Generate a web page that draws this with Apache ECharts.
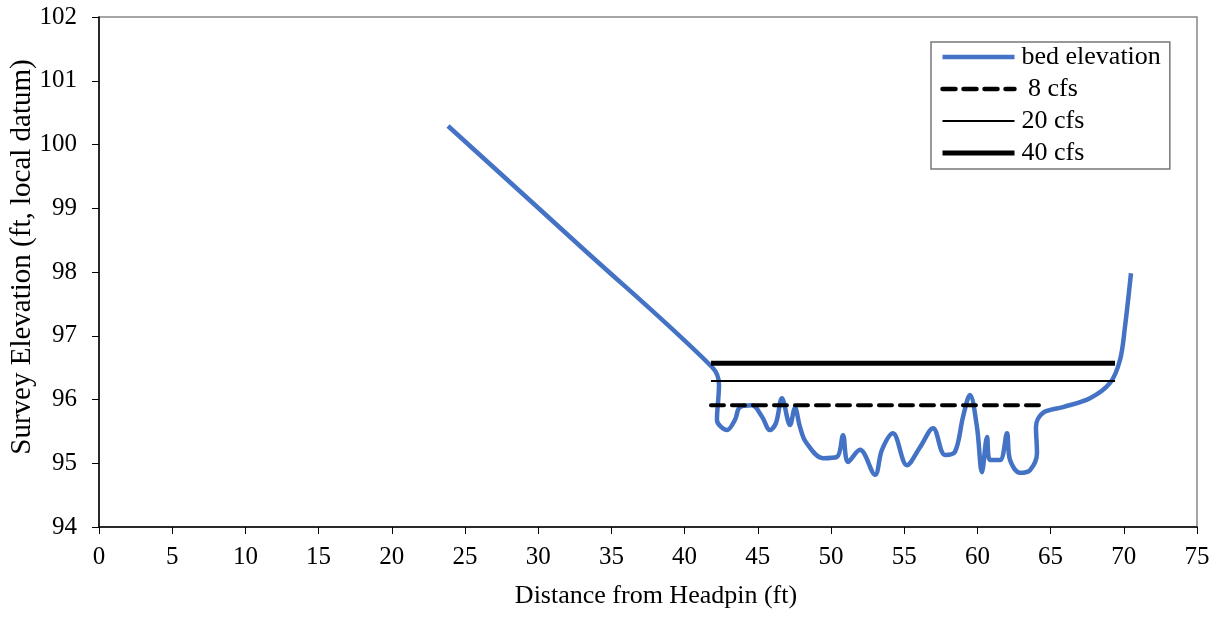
<!DOCTYPE html>
<html>
<head>
<meta charset="utf-8">
<script src="https://cdn.jsdelivr.net/npm/echarts@6/dist/echarts.min.js"></script>
<style>html,body{margin:0;padding:0;background:#fff;}#c{width:1219px;height:623px;}</style>
</head>
<body>
<div id="c"></div>
<script>
const bedX = [23.84, 32.8, 41.87, 42.35, 42.21, 42.90, 43.44, 43.78, 44.60, 45.29, 45.83, 46.24, 46.65, 47.20, 47.54, 47.88, 48.29, 49.45, 50.41, 50.82, 51.16, 51.98, 53.01, 53.48, 54.23, 55.19, 56.08, 56.97, 57.79, 58.47, 59.02, 59.49, 59.97, 60.31, 60.66, 60.86, 61.54, 62.02, 62.23, 62.91, 63.59, 64.07, 64.00, 64.48, 65.85, 67.69, 69.06, 69.74, 70.08, 70.49];
const bedY = [100.29, 98.42, 96.51, 96.23, 95.68, 95.52, 95.68, 95.88, 95.91, 95.73, 95.52, 95.63, 96.02, 95.60, 95.87, 95.57, 95.33, 95.08, 95.10, 95.44, 95.02, 95.21, 94.82, 95.21, 95.47, 94.97, 95.25, 95.55, 95.13, 95.18, 95.73, 96.07, 95.57, 94.86, 95.41, 95.05, 95.05, 95.47, 95.05, 94.85, 94.89, 95.16, 95.57, 95.79, 95.88, 96.02, 96.26, 96.62, 97.14, 97.98];
const cfs8X = [41.8, 64.4];
const cfs8Y = [95.91, 95.91];
const cfs20X = [41.8, 69.4];
const cfs20Y = [96.29, 96.29];
const cfs40X = [41.8, 69.4];
const cfs40Y = [96.57, 96.57];
const legendNames = ['bed elevation', ' 8 cfs', '20 cfs', '40 cfs'];

const zip = (xs, ys) => xs.map((x, i) => [x, ys[i]]);
const font = 'Liberation Serif, Times New Roman, serif';

const chart = echarts.init(document.getElementById('c'), null, {renderer: 'canvas'});
chart.setOption({
  animation: false,
  backgroundColor: '#fff',
  textStyle: {fontFamily: font},
  grid: {left: 99, right: 22, top: 17, bottom: 96, show: true, borderColor: '#888', borderWidth: 1.5,
         backgroundColor: 'transparent', containLabel: false, outerBoundsMode: 'none'},
  legend: {
    orient: 'vertical',
    left: 931, top: 42,
    padding: [2, 9, 3, 9],
    itemGap: 6,
    itemWidth: 72, itemHeight: 26,
    borderColor: '#777', borderWidth: 1.5,
    itemStyle: {opacity: 0},
    textStyle: {fontFamily: font, fontSize: 26, lineHeight: 26, color: '#000', padding: [0, 0, 0, 2]},
    data: [
      {name: legendNames[0], lineStyle: {width: 4.5}},
      {name: legendNames[1], lineStyle: {width: 4.5}},
      {name: legendNames[2], lineStyle: {width: 2}},
      {name: legendNames[3], lineStyle: {width: 5}}
    ]
  },
  xAxis: {
    type: 'value', min: 0, max: 75, interval: 5,
    name: 'Distance from Headpin (ft)', nameLocation: 'middle', nameGap: 56, nameMoveOverlap: false,
    nameTextStyle: {fontFamily: font, fontSize: 26, color: '#000', padding: [0, 0, 0, 16]},
    axisLine: {show: true, lineStyle: {color: '#000', width: 1.5}},
    axisTick: {show: true, inside: false, length: 7, lineStyle: {color: '#000'}},
    axisLabel: {fontFamily: font, fontSize: 25, color: '#000', margin: 18},
    splitLine: {show: false}
  },
  yAxis: {
    type: 'value', min: 94, max: 102, interval: 1,
    name: 'Survey Elevation (ft, local datum)', nameLocation: 'middle', nameGap: 62, nameMoveOverlap: false,
    nameTextStyle: {fontFamily: font, fontSize: 29, color: '#000', padding: [0, 0, 0, 30]},
    axisLine: {show: true, lineStyle: {color: '#000', width: 1.5}},
    axisTick: {show: true, inside: false, length: 7, lineStyle: {color: '#000'}},
    axisLabel: {fontFamily: font, fontSize: 25, color: '#000', margin: 22},
    splitLine: {show: false}
  },
  series: [
    {name: legendNames[0], type: 'line', data: zip(bedX, bedY), smooth: 0.35, symbol: 'none', showSymbol: false,
     lineStyle: {color: '#4472C4', width: 4.5}, itemStyle: {color: '#4472C4'}, z: 2},
    {name: legendNames[1], type: 'line', data: zip(cfs8X, cfs8Y), symbol: 'none', showSymbol: false,
     lineStyle: {color: '#000', width: 4, type: [13, 8], cap: 'round'}, itemStyle: {color: '#000'}, z: 3},
    {name: legendNames[2], type: 'line', data: zip(cfs20X, cfs20Y), symbol: 'none', showSymbol: false,
     lineStyle: {color: '#000', width: 2}, itemStyle: {color: '#000'}, z: 3},
    {name: legendNames[3], type: 'line', data: zip(cfs40X, cfs40Y), symbol: 'none', showSymbol: false,
     lineStyle: {color: '#000', width: 5}, itemStyle: {color: '#000'}, z: 3}
  ]
});
</script>
</body>
</html>
